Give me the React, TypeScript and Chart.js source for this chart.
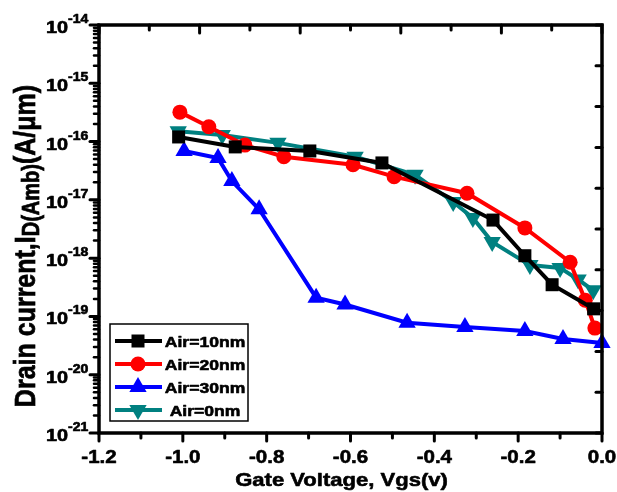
import React, { useEffect, useRef } from 'react';
import { Chart, registerables } from 'chart.js';

Chart.register(...registerables);

// Gate voltage (V) and drain current (A/um) for each air-gap thickness
const vgsAir10 = [-1.01, -0.875, -0.697, -0.525, -0.26, -0.184, -0.119, -0.02];
const idAir10 = [1.2e-16, 8.1e-17, 6.9e-17, 4.3e-17, 4.5e-18, 1.1e-18, 3.5e-19, 1.35e-19];

const vgsAir20 = [-1.007, -0.938, -0.852, -0.759, -0.594, -0.496, -0.322, -0.184, -0.076, -0.04, -0.017];
const idAir20 = [3.2e-16, 1.8e-16, 8.7e-17, 5.5e-17, 4.0e-17, 2.5e-17, 1.3e-17, 3.3e-18, 8.5e-19, 1.9e-19, 6.3e-20];

const vgsAir30 = [-0.997, -0.916, -0.883, -0.818, -0.682, -0.613, -0.465, -0.327, -0.184, -0.093, 0.0];
const idAir30 = [6.9e-17, 5.2e-17, 2.1e-17, 6.9e-18, 2.1e-19, 1.6e-19, 7.8e-20, 6.6e-20, 5.6e-20, 4.1e-20, 3.5e-20];

const vgsAir0 = [-1.011, -0.906, -0.773, -0.589, -0.446, -0.355, -0.308, -0.262, -0.172, -0.1, -0.057, -0.021];
const idAir0 = [1.5e-16, 1.3e-16, 9.5e-17, 5.5e-17, 2.7e-17, 9.2e-18, 4.9e-18, 1.9e-18, 7.6e-19, 6.8e-19, 4.3e-19, 2.8e-19];

const seriesNames = ['Air=10nm', 'Air=20nm', 'Air=30nm', 'Air=0nm'];
const seriesColors = ['#000000', '#ff0000', '#0000ff', '#008080'];

const xTickValues = [-1.2, -1.0, -0.8, -0.6, -0.4, -0.2, 0.0];
const xTickLabels = ['-1.2', '-1.0', '-0.8', '-0.6', '-0.4', '-0.2', '0.0'];
const yDecades = [-14, -15, -16, -17, -18, -19, -20, -21];

const xTitle = 'Gate Voltage, Vgs(v)';
const yTitleMain = 'Drain current,I';
const yTitleSub = 'D(Amb)';
const yTitleUnit = '(A/\u03bcm)';

const FONT = '"Liberation Sans", Arial, sans-serif';

type Marker = 'square' | 'circle' | 'up' | 'down';
const markerKinds: Marker[] = ['square', 'circle', 'up', 'down'];

function zip(xs: number[], ys: number[]) {
  return xs.map((x, i) => ({ x, y: ys[i] }));
}

// Heavy bold text, stretched horizontally by sx
function drawText(ctx: CanvasRenderingContext2D, text: string, x: number, y: number, size: number, sx: number, align: 'left' | 'center' | 'right') {
  ctx.save();
  ctx.font = `bold ${size}px ${FONT}`;
  const w = ctx.measureText(text).width * sx;
  const left = align === 'center' ? x - w / 2 : align === 'right' ? x - w : x;
  ctx.translate(left, y);
  ctx.scale(sx, 1);
  ctx.textAlign = 'left';
  ctx.textBaseline = 'alphabetic';
  ctx.fillStyle = '#000';
  ctx.strokeStyle = '#000';
  ctx.lineWidth = 0.6;
  ctx.lineJoin = 'round';
  ctx.fillText(text, 0, 0);
  ctx.strokeText(text, 0, 0);
  ctx.restore();
  return w;
}

function drawMarker(ctx: CanvasRenderingContext2D, kind: Marker, x: number, y: number, color: string) {
  ctx.save();
  ctx.fillStyle = color;
  ctx.beginPath();
  if (kind === 'square') {
    const s = 6.5;
    ctx.rect(x - s, y - s, 2 * s, 2 * s);
  } else if (kind === 'circle') {
    ctx.arc(x, y, 7.5, 0, Math.PI * 2);
  } else {
    const r = 10;
    const dir = kind === 'up' ? 1 : -1;
    for (let k = 0; k < 3; k++) {
      const a = (k * 2 * Math.PI) / 3;
      const px = x + Math.sin(a) * r;
      const py = y - dir * Math.cos(a) * r;
      if (k === 0) ctx.moveTo(px, py);
      else ctx.lineTo(px, py);
    }
    ctx.closePath();
  }
  ctx.fill();
  ctx.restore();
}

const framePlugin = {
  id: 'originFrame',
  afterDatasetsDraw(chart: any) {
    const ctx: CanvasRenderingContext2D = chart.ctx;
    const { left, right, top, bottom } = chart.chartArea;
    const xs = chart.scales.x;
    const ys = chart.scales.y;
    const xt = chart.scales.xTop;
    const yr = chart.scales.yRight;

    ctx.save();
    ctx.strokeStyle = '#000';
    ctx.lineCap = 'round';

    const tick = (x1: number, y1: number, x2: number, y2: number, w: number) => {
      ctx.lineWidth = w;
      ctx.beginPath();
      ctx.moveTo(x1, y1);
      ctx.lineTo(x2, y2);
      ctx.stroke();
    };
    // bottom axis: major every 0.2, minor every 0.1 (outward)
    for (let i = 0; i <= 12; i++) {
      const v = -1.2 + i * 0.1;
      const px = xs.getPixelForValue(v);
      tick(px, bottom, px, bottom + (i % 2 === 0 ? 8 : 5), 3);
    }
    // top axis (inward)
    for (let i = 0; i <= 10; i++) {
      const px = xt.getPixelForValue(i * 0.5);
      tick(px, top, px, top + (i % 2 === 0 ? 8 : 5), 3);
    }
    // left axis: decades plus 2..9 minors (outward)
    for (const e of yDecades) {
      const py = ys.getPixelForValue(Math.pow(10, e));
      tick(left, py, left - 9, py, 3);
    }
    for (let e = -21; e < -14; e++) {
      for (let m = 2; m <= 9; m++) {
        const py = ys.getPixelForValue(m * Math.pow(10, e));
        tick(left, py, left - 5, py, 2.5);
      }
    }
    // right axis (inward)
    for (let i = 0; i <= 10; i++) {
      const py = yr.getPixelForValue(i);
      tick(right, py, right - 6, py, 3);
    }

    // frame
    ctx.lineCap = 'square';
    ctx.lineWidth = 3.5;
    ctx.strokeRect(left, top, right - left, bottom - top);

    // x tick labels
    xTickValues.forEach((v, i) => {
      drawText(ctx, xTickLabels[i], xs.getPixelForValue(v), bottom + 30, 19, 1.08, 'center');
    });
    // y tick labels 10^n
    for (const e of yDecades) {
      const py = ys.getPixelForValue(Math.pow(10, e));
      drawText(ctx, '10', 68, py + 8, 17, 1.17, 'right');
      drawText(ctx, String(e), 68, py - 2, 12, 1.17, 'left');
    }

    // x title
    drawText(ctx, xTitle, (left + right) / 2 - 9, 486, 19, 1.16, 'center');

    // y title, rotated, with subscript
    ctx.save();
    const mainSize = 25;
    const subSize = 20;
    const sy = 1.2;
    ctx.font = `bold ${mainSize}px ${FONT}`;
    const w1 = ctx.measureText(yTitleMain).width;
    const w3 = ctx.measureText(yTitleUnit).width;
    ctx.font = `bold ${subSize}px ${FONT}`;
    const w2 = ctx.measureText(yTitleSub).width;
    const total = w1 + w2 + w3;
    ctx.translate(35, 246);
    ctx.rotate(-Math.PI / 2);
    ctx.scale(1, sy);
    ctx.fillStyle = '#000';
    ctx.strokeStyle = '#000';
    ctx.lineWidth = 0.6;
    ctx.textAlign = 'left';
    ctx.textBaseline = 'alphabetic';
    let cx = -total / 2;
    ctx.font = `bold ${mainSize}px ${FONT}`;
    ctx.fillText(yTitleMain, cx, 0);
    ctx.strokeText(yTitleMain, cx, 0);
    cx += w1;
    ctx.font = `bold ${subSize}px ${FONT}`;
    ctx.fillText(yTitleSub, cx, 3);
    ctx.strokeText(yTitleSub, cx, 3);
    cx += w2;
    ctx.font = `bold ${mainSize}px ${FONT}`;
    ctx.fillText(yTitleUnit, cx, 0);
    ctx.strokeText(yTitleUnit, cx, 0);
    ctx.restore();

    // legend
    const lx = 110, ly = 324, lw = 138, lh = 97;
    ctx.fillStyle = '#fff';
    ctx.fillRect(lx, ly, lw, lh);
    ctx.lineWidth = 1.5;
    ctx.strokeStyle = '#000';
    ctx.strokeRect(lx, ly, lw, lh);
    seriesNames.forEach((name, i) => {
      const yy = ly + 17 + i * 23;
      ctx.strokeStyle = seriesColors[i];
      ctx.lineWidth = 4;
      ctx.lineCap = 'butt';
      ctx.beginPath();
      ctx.moveTo(115, yy);
      ctx.lineTo(162, yy);
      ctx.stroke();
      drawMarker(ctx, markerKinds[i], 138, yy, seriesColors[i]);
      drawText(ctx, name, 205, yy + 5.5, 15, 1.17, 'center');
    });

    ctx.restore();
  },
};

export default function App() {
  const canvasRef = useRef<HTMLCanvasElement | null>(null);

  useEffect(() => {
    const canvas = canvasRef.current;
    if (!canvas) return;
    const pointOpts = [
      { pointStyle: 'rect', pointRadius: 9.2, rotation: 0 },
      { pointStyle: 'circle', pointRadius: 7.5, rotation: 0 },
      { pointStyle: 'triangle', pointRadius: 10, rotation: 0 },
      { pointStyle: 'triangle', pointRadius: 10, rotation: 180 },
    ];
    const series = [
      zip(vgsAir10, idAir10),
      zip(vgsAir20, idAir20),
      zip(vgsAir30, idAir30),
      zip(vgsAir0, idAir0),
    ];
    const chart = new Chart(canvas, {
      type: 'line',
      data: {
        datasets: series.map((d, i) => ({
          label: seriesNames[i],
          data: d,
          borderColor: seriesColors[i],
          backgroundColor: seriesColors[i],
          pointBackgroundColor: seriesColors[i],
          pointBorderColor: seriesColors[i],
          pointBorderWidth: 0,
          borderWidth: 4,
          tension: 0,
          fill: false,
          clip: false as any,
          pointStyle: pointOpts[i].pointStyle as any,
          pointRadius: pointOpts[i].pointRadius,
          pointRotation: pointOpts[i].rotation,
        })),
      },
      options: {
        responsive: false,
        animation: false,
        devicePixelRatio: 1,
        layout: { padding: { left: 99, right: 15, top: 25, bottom: 59 } },
        plugins: { legend: { display: false }, tooltip: { enabled: false } },
        scales: {
          x: { type: 'linear', min: -1.2, max: 0, display: false },
          y: { type: 'logarithmic', min: 1e-21, max: 1e-14, display: false },
          xTop: { type: 'linear', axis: 'x', position: 'top', min: 0, max: 5, display: false },
          yRight: { type: 'linear', axis: 'y', position: 'right', min: 0, max: 10, display: false },
        },
      },
      plugins: [framePlugin],
    });
    return () => chart.destroy();
  }, []);

  return (
    <div style={{ position: 'absolute', left: 0, top: 0, width: 617, height: 492, background: '#fff' }}>
      <canvas ref={canvasRef} width={617} height={492} />
    </div>
  );
}
